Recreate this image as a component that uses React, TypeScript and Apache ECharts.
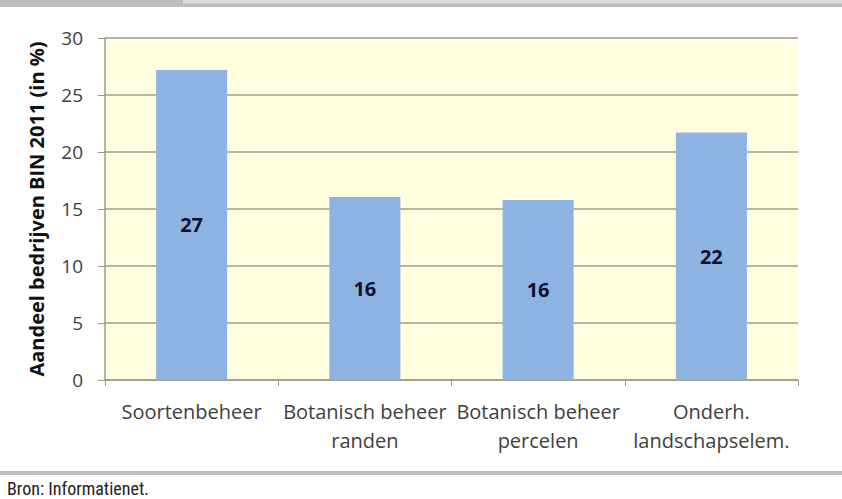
import React, { useEffect, useRef } from "react";
import * as echarts from "echarts";

const categories = [
  "Soortenbeheer",
  "Botanisch beheer\nranden",
  "Botanisch beheer\npercelen",
  "Onderh.\nlandschapselem.",
];
const values = [27.2, 16.05, 15.8, 21.7];
const yTicks = { min: 0, max: 30, interval: 5 };
const yTitle = "Aandeel bedrijven BIN 2011 (in %)";
const sourceText = "Bron: Informatienet.";

export default function App() {
  const ref = useRef<HTMLDivElement>(null);
  useEffect(() => {
    if (!ref.current) return;
    const chart = echarts.init(ref.current, null, { renderer: "svg" });
    const font = "'Open Sans', 'Noto Sans', sans-serif";
    chart.setOption({
      animation: false,
      backgroundColor: "#ffffff",
      grid: {
        left: 105,
        right: 44,
        top: 38,
        bottom: 119,
        show: true,
        backgroundColor: "#FFFFDF",
        borderWidth: 0,
      },
      xAxis: {
        type: "category",
        data: categories,
        axisLine: { show: true, lineStyle: { color: "#9c9c8c", width: 1.5 } },
        axisTick: { show: true, length: 6, lineStyle: { color: "#9c9c8c" } },
        axisLabel: {
          interval: 0,
          hideOverlap: false,
          margin: 17,
          fontFamily: font,
          fontSize: 20,
          lineHeight: 29,
          color: "#404040",
        },
      },
      yAxis: {
        type: "value",
        min: yTicks.min,
        max: yTicks.max,
        interval: yTicks.interval,
        name: yTitle,
        nameLocation: "middle",
        nameGap: 59,
        nameRotate: 90,
        nameTextStyle: {
          fontFamily: font,
          fontSize: 20,
          fontWeight: "bold",
          color: "#111111",
        },
        axisLine: { show: true, lineStyle: { color: "#9c9c8c", width: 1.5 } },
        axisTick: { show: true, length: 7, lineStyle: { color: "#9c9c8c" } },
        splitLine: { show: true, lineStyle: { color: "#9c9c8c", width: 1.5 } },
        axisLabel: {
          margin: 22,
          fontFamily: font,
          fontSize: 19,
          color: "#404040",
        },
      },
      series: [
        {
          type: "bar",
          data: values,
          barWidth: "41%",
          itemStyle: { color: "#8DB3E2" },
          label: {
            show: true,
            position: "inside",
            formatter: (p: any) => String(Math.round(p.value)),
            fontFamily: font,
            fontSize: 20,
            fontWeight: "bold",
            color: "#101030",
          },
        },
      ],
      graphic: [
        { type: "rect", shape: { x: 0, y: 0, width: 842, height: 7 }, style: { fill: "#bdbdbd" } },
        { type: "rect", shape: { x: 183, y: 0, width: 659, height: 3.5 }, style: { fill: "#dcdcdc" } },
        { type: "rect", shape: { x: 0, y: 471, width: 842, height: 4 }, style: { fill: "#c0c0c0" } },
        {
          type: "text",
          x: 7,
          y: 488,
          style: {
            text: sourceText,
            fontFamily: "'Liberation Sans Narrow', 'Roboto Condensed', 'DejaVu Sans Condensed', sans-serif",
            fontSize: 18,
            fill: "#222222",
            verticalAlign: "middle",
          },
        },
      ],
    });
    return () => chart.dispose();
  }, []);
  return (
    <div
      ref={ref}
      style={{ position: "fixed", left: 0, top: 0, width: 842, height: 499 }}
    />
  );
}
